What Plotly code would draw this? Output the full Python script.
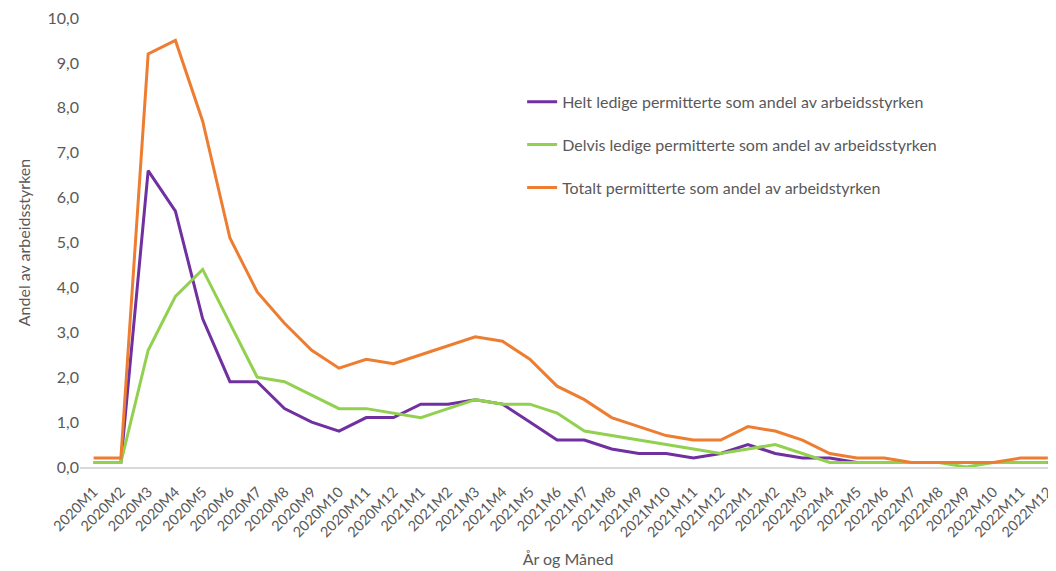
import plotly.graph_objects as go

months = [f"{y}M{m}" for y in (2020, 2021, 2022) for m in range(1, 13)]

helt = [0.1, 0.1, 6.6, 5.7, 3.3, 1.9, 1.9, 1.3, 1.0, 0.8, 1.1, 1.1,
        1.4, 1.4, 1.5, 1.4, 1.0, 0.6, 0.6, 0.4, 0.3, 0.3, 0.2, 0.3,
        0.5, 0.3, 0.2, 0.2, 0.1, 0.1, 0.1, 0.1, 0.1, 0.1, 0.1, 0.1]
delvis = [0.1, 0.1, 2.6, 3.8, 4.4, 3.2, 2.0, 1.9, 1.6, 1.3, 1.3, 1.2,
          1.1, 1.3, 1.5, 1.4, 1.4, 1.2, 0.8, 0.7, 0.6, 0.5, 0.4, 0.3,
          0.4, 0.5, 0.3, 0.1, 0.1, 0.1, 0.1, 0.1, 0.0, 0.1, 0.1, 0.1]
totalt = [0.2, 0.2, 9.2, 9.5, 7.7, 5.1, 3.9, 3.2, 2.6, 2.2, 2.4, 2.3,
          2.5, 2.7, 2.9, 2.8, 2.4, 1.8, 1.5, 1.1, 0.9, 0.7, 0.6, 0.6,
          0.9, 0.8, 0.6, 0.3, 0.2, 0.2, 0.1, 0.1, 0.1, 0.1, 0.2, 0.2]

names = ["Helt ledige permitterte som andel av arbeidsstyrken",
         "Delvis ledige permitterte som andel av arbeidsstyrken",
         "Totalt permitterte som andel av arbeidstyrken"]
colors = ["#7030A0", "#92D050", "#ED7D31"]

yticks = [float(i) for i in range(0, 11)]
ytick_labels = [f"{v:.1f}".replace(".", ",") for v in yticks]

FONT = "Lato, Carlito, 'Open Sans', sans-serif"
GREY = "#595959"

fig = go.Figure()
for i, (nm, ser, col) in enumerate(zip(names, [helt, delvis, totalt], colors)):
    fig.add_trace(go.Scatter(x=months, y=ser, mode="lines", name=nm,
                             legendgroup=str(i),
                             line=dict(color=col, width=3)))

fig.update_layout(
    width=1048, height=563,
    margin=dict(l=72, r=0, t=10, b=104),
    paper_bgcolor="white", plot_bgcolor="white",
    font=dict(family=FONT, color=GREY, size=16),
    showlegend=True,
    legend=dict(x=0.453, y=0.851, xanchor="left", yanchor="top",
                bgcolor="rgba(0,0,0,0)", font=dict(size=16, color=GREY),
                tracegroupgap=19),
    xaxis=dict(type="category", range=[-0.5, 35.3], tickangle=-45,
               automargin=False, ticklabeloverflow="allow",
               showgrid=False, showline=True, linecolor="#D9D9D9", linewidth=1.5,
               ticks="outside", ticklen=9, tickcolor="rgba(0,0,0,0)",
               tickfont=dict(size=14.5, color=GREY),
               title=dict(text="År og Måned", standoff=14, font=dict(size=16, color=GREY))),
    yaxis=dict(range=[0, 10], tickvals=yticks, ticktext=ytick_labels,
               automargin=False, ticklabeloverflow="allow",
               showgrid=False, zeroline=False, showline=False, ticks="",
               tickfont=dict(size=16, color=GREY),
               title=dict(text="Andel av arbeidsstyrken", standoff=12,
                          font=dict(size=16, color=GREY))),
)

fig.write_html("out.html")
